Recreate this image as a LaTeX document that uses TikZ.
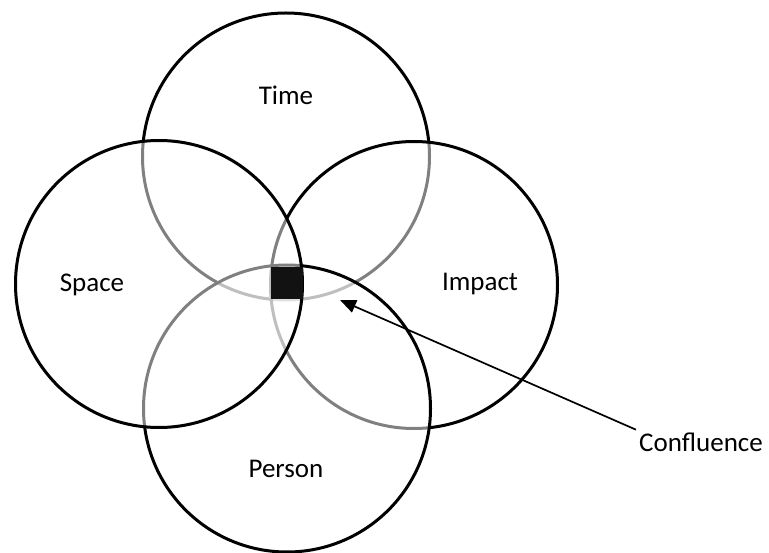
\documentclass[tikz,border=0pt]{standalone}
\usepackage{fontspec}
\setmainfont{Carlito}
\usetikzlibrary{arrows.meta}
\begin{document}
\begin{tikzpicture}[x=1pt,y=-1pt,
  ring/.style={circle, draw=black, line width=3pt, fill=white, fill opacity=0.5, minimum size=287pt, inner sep=0pt},
  lbl/.style={font=\fontsize{27}{31}\selectfont, anchor=base, inner sep=0pt},
  core/.style={rectangle, fill=black!93, minimum size=32pt, inner sep=0pt},
  pointer/.style={-{Triangle[length=16pt,width=13pt]}, line width=1.7pt}]
\useasboundingbox (0,0) rectangle (769,553);
% circles, bottom to top
\node[ring] (time) at (286,156.5) {};
\node[ring] (impact) at (414,285) {};
\node[ring] (person) at (287,408.5) {};
\node[ring] (space) at (159,284) {};
% confluence square
\node[core] (sq) at (287,283.5) {};
% labels
\node[lbl] (tl) at (286,105) {Time};
\node[lbl] (sl) at (92,292) {Space};
\node[lbl] (il) at (480,291) {Impact};
\node[lbl] (pl) at (286,478) {Person};
\node[lbl, inner sep=3pt] (conf) at (701,451.5) {Confluence};
\coordinate (tip) at (340,300);
\draw[pointer] (conf.north west) -- (tip);
\end{tikzpicture}
\end{document}
